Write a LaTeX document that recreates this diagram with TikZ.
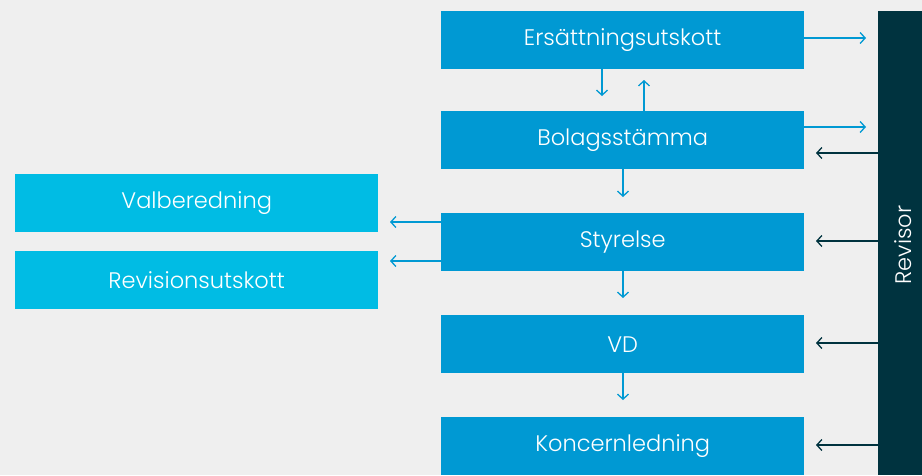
\documentclass[tikz,border=0pt]{standalone}
\usepackage{fontspec}
\IfFontExistsTF{Poppins Light}{\setmainfont{Poppins Light}}{\setmainfont{Poppins}}
\usetikzlibrary{arrows.meta}
\definecolor{bg}{HTML}{EFEFEF}
\definecolor{mainblue}{HTML}{0099D3}
\definecolor{lightblue}{HTML}{00BCE4}
\definecolor{darkteal}{HTML}{00333F}
\tikzset{
  boxfont/.style={font=\fontsize{22.5}{26}\selectfont},
  mainbox/.style={fill=mainblue, text=white, minimum width=363pt, minimum height=58pt, inner sep=0pt, boxfont, anchor=north west},
  sidebox/.style={mainbox, fill=lightblue},
  tip/.style={-{Straight Barb[length=5pt,width=11pt,line width=1.3pt]}, line width=1.3pt},
  bluearrow/.style={tip, draw=mainblue},
  darkarrow/.style={tip, draw=darkteal},
}
\begin{document}
\begin{tikzpicture}[x=1pt,y=-1pt]
\fill[bg] (0,0) rectangle (922,475);
\useasboundingbox (0,0) rectangle (922,475);
\node[mainbox] (ers) at (441,11) {Ersättningsutskott};
\node[mainbox] (bol) at (441,111) {Bolagsstämma};
\node[mainbox] (sty) at (441,213) {Styrelse};
\node[mainbox] (vd) at (441,315) {VD};
\node[mainbox] (kon) at (441,417) {Koncernledning};
\node[sidebox] (val) at (15,174) {Valberedning};
\node[sidebox] (rev) at (15,251) {Revisionsutskott};
\node[fill=darkteal, minimum width=44pt, minimum height=464pt, inner sep=0pt, anchor=north west] (bar) at (878,11) {};
\node[rotate=90, text=white, boxfont] (revisor) at (903,245) {Revisor};
% arrows
\coordinate (e0) at (804,38);  \coordinate (e1) at (866,38);
\coordinate (b0) at (804,127); \coordinate (b1) at (866,127);
\draw[bluearrow] (e0) -- (e1);
\draw[bluearrow] (b0) -- (b1);
\coordinate (r1) at (878,153); \coordinate (t1) at (816,153);
\coordinate (r2) at (878,241); \coordinate (t2) at (816,241);
\coordinate (r3) at (878,343); \coordinate (t3) at (816,343);
\coordinate (r4) at (878,445); \coordinate (t4) at (816,445);
\draw[darkarrow] (r1) -- (t1);
\draw[darkarrow] (r2) -- (t2);
\draw[darkarrow] (r3) -- (t3);
\draw[darkarrow] (r4) -- (t4);
\coordinate (d1s) at (602,69);  \coordinate (d1e) at (602,96);
\coordinate (u1s) at (644,111); \coordinate (u1e) at (644,80);
\coordinate (d2s) at (623,169); \coordinate (d2e) at (623,197);
\coordinate (d3s) at (623,271); \coordinate (d3e) at (623,298);
\coordinate (d4s) at (623,373); \coordinate (d4e) at (623,400);
\draw[bluearrow] (d1s) -- (d1e);
\draw[bluearrow] (u1s) -- (u1e);
\draw[bluearrow] (d2s) -- (d2e);
\draw[bluearrow] (d3s) -- (d3e);
\draw[bluearrow] (d4s) -- (d4e);
\coordinate (l1s) at (441,222); \coordinate (l1e) at (390,222);
\coordinate (l2s) at (441,261); \coordinate (l2e) at (390,261);
\draw[bluearrow] (l1s) -- (l1e);
\draw[bluearrow] (l2s) -- (l2e);
\end{tikzpicture}
\end{document}
